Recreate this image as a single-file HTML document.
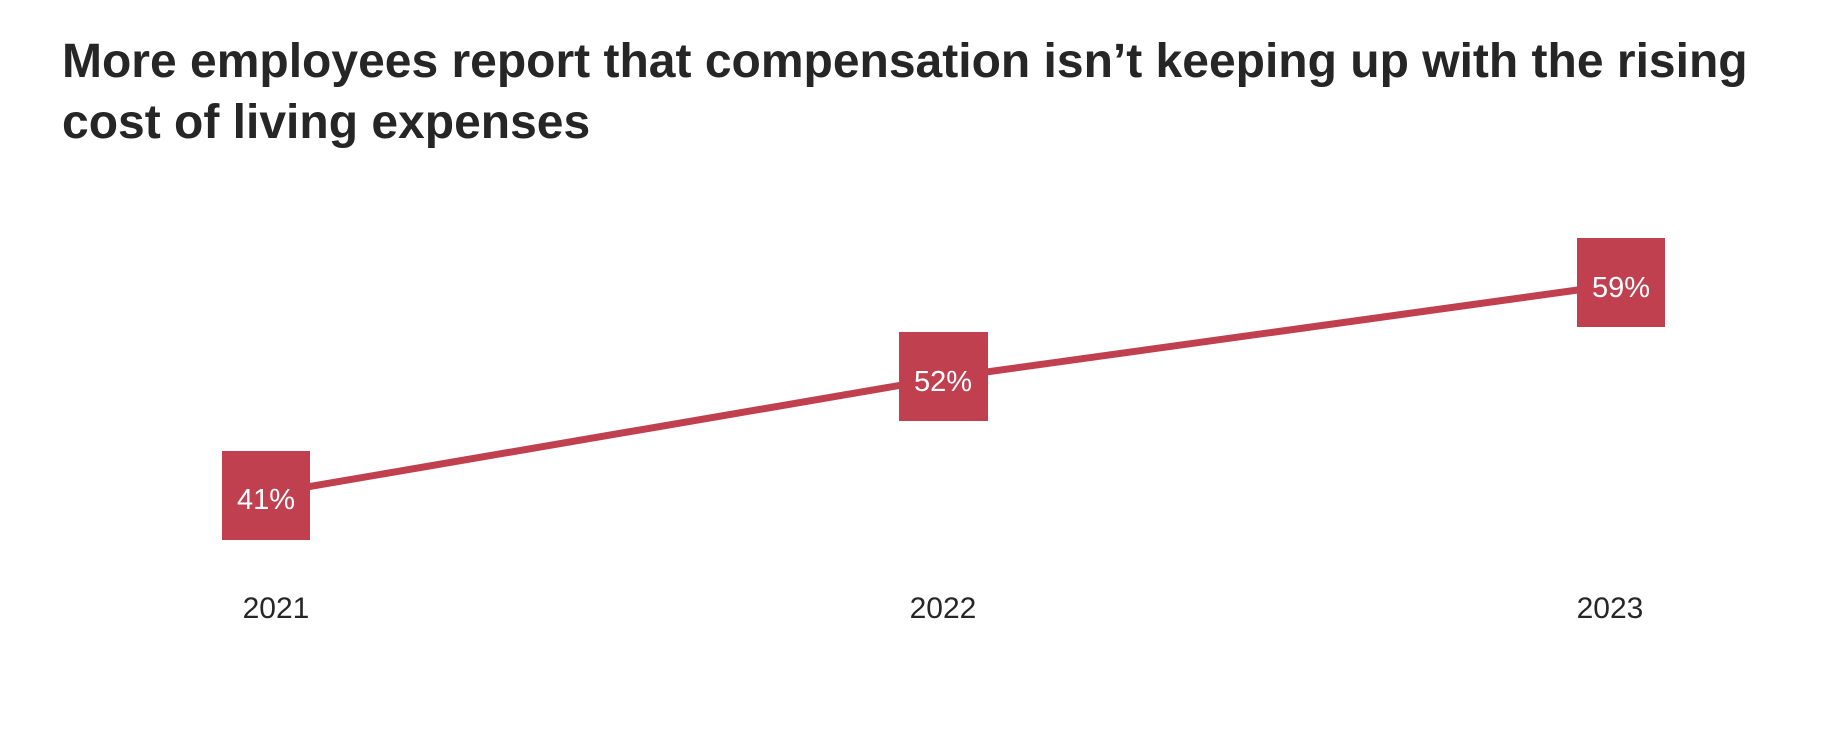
<!DOCTYPE html>
<html><head><meta charset="utf-8"><style>
html,body{margin:0;padding:0;background:#fff;width:1830px;height:734px;overflow:hidden}
h1{position:absolute;left:62px;top:31px;margin:0;font:bold 48px/61px "Liberation Sans",sans-serif;color:#262626;width:1760px;letter-spacing:0px}
svg{position:absolute;left:0;top:0}
</style></head><body>
<h1>More employees report that compensation isn’t keeping up with the rising cost of living expenses</h1>
<svg width="1830" height="734" font-family="Liberation Sans, sans-serif">
<polyline points="266,494 943,378 1621,284" fill="none" stroke="#c0404f" stroke-width="7"/>
<rect x="222" y="451" width="88" height="89" fill="#c0404f"/>
<rect x="899" y="332" width="89" height="89" fill="#c0404f"/>
<rect x="1577" y="238" width="88" height="89" fill="#c0404f"/>
<g fill="#fff" font-size="29" text-anchor="middle">
<text x="266" y="509">41%</text>
<text x="943" y="391">52%</text>
<text x="1621" y="297">59%</text>
</g>
<g fill="#262626" font-size="30" text-anchor="middle">
<text x="276" y="618">2021</text>
<text x="943" y="618">2022</text>
<text x="1610" y="618">2023</text>
</g>
</svg>
</body></html>
